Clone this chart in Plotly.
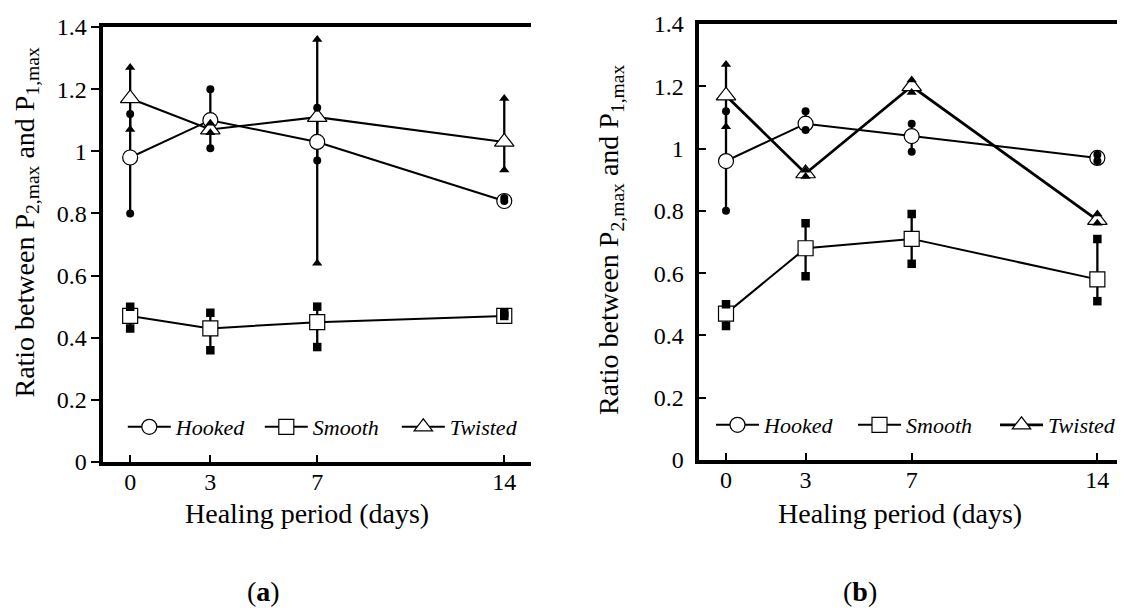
import plotly.graph_objects as go

# ---------------- data ----------------
days = [0, 3, 7, 14]
x_ticktext = ["0", "3", "7", "14"]
y_tickvals = [0, 0.2, 0.4, 0.6, 0.8, 1.0, 1.2, 1.4]
y_ticktext = ["0", "0.2", "0.4", "0.6", "0.8", "1", "1.2", "1.4"]
series_names = ["Hooked", "Smooth", "Twisted"]

# panel (a)
a_hooked_mean = [0.98, 1.10, 1.03, 0.84]
a_hooked_lo = [0.80, 1.01, 0.97, 0.84]
a_hooked_hi = [1.12, 1.20, 1.14, 0.85]
a_smooth_mean = [0.47, 0.43, 0.45, 0.47]
a_smooth_lo = [0.43, 0.36, 0.37, 0.47]
a_smooth_hi = [0.50, 0.48, 0.50, 0.48]
a_twisted_mean = [1.17, 1.07, 1.11, 1.03]
a_twisted_lo = [1.07, 1.06, 0.64, 0.94]
a_twisted_hi = [1.27, 1.09, 1.36, 1.17]

# panel (b)
b_hooked_mean = [0.96, 1.08, 1.04, 0.97]
b_hooked_lo = [0.80, 1.06, 0.99, 0.96]
b_hooked_hi = [1.12, 1.12, 1.08, 0.98]
b_smooth_mean = [0.47, 0.68, 0.71, 0.58]
b_smooth_lo = [0.43, 0.59, 0.63, 0.51]
b_smooth_hi = [0.50, 0.76, 0.79, 0.71]
b_twisted_mean = [1.17, 0.92, 1.20, 0.77]
b_twisted_lo = [1.07, 0.91, 1.18, 0.76]
b_twisted_hi = [1.27, 0.93, 1.22, 0.79]

# ---------------- styling ----------------
FONT = "Liberation Serif, serif"
W, H = 1137, 608
open_sym = {"Hooked": "circle", "Smooth": "square", "Twisted": "triangle-up"}
open_size = {"Hooked": 15, "Smooth": 15, "Twisted": 17}
fill_size = {"Hooked": 8, "Smooth": 8.5, "Twisted": 9}

panels = [
    ("x", "y", "legend", {"Twisted": 2.1}, [
        ("Hooked", a_hooked_mean, a_hooked_lo, a_hooked_hi),
        ("Smooth", a_smooth_mean, a_smooth_lo, a_smooth_hi),
        ("Twisted", a_twisted_mean, a_twisted_lo, a_twisted_hi),
    ]),
    ("x2", "y2", "legend2", {"Twisted": 2.8}, [
        ("Hooked", b_hooked_mean, b_hooked_lo, b_hooked_hi),
        ("Smooth", b_smooth_mean, b_smooth_lo, b_smooth_hi),
        ("Twisted", b_twisted_mean, b_twisted_lo, b_twisted_hi),
    ]),
]

fig = go.Figure()
for xa, ya, leg, widths, data in panels:
    # range bars (below everything)
    for name, mean, lo, hi in data:
        fig.add_trace(go.Scatter(
            x=days, y=lo, mode="markers", xaxis=xa, yaxis=ya,
            marker=dict(size=1, opacity=0), showlegend=False, hoverinfo="skip",
            error_y=dict(type="data", symmetric=False,
                         array=[h - l for h, l in zip(hi, lo)],
                         arrayminus=[0] * len(lo), width=0, thickness=2.3,
                         color="black"),
        ))
    # mean lines with open markers
    for name, mean, lo, hi in data:
        fig.add_trace(go.Scatter(
            x=days, y=mean, mode="lines+markers", name="<i>" + name + "</i>",
            xaxis=xa, yaxis=ya, legend=leg,
            line=dict(color="black", width=widths.get(name, 2)),
            marker=dict(symbol=open_sym[name], size=open_size[name], color="white",
                        line=dict(color="black", width=1.2)),
        ))
    # individual (min / max) filled markers on top
    for name, mean, lo, hi in data:
        fig.add_trace(go.Scatter(
            x=days + days, y=lo + hi, mode="markers", xaxis=xa, yaxis=ya,
            showlegend=False, hoverinfo="skip",
            marker=dict(symbol=open_sym[name], size=fill_size[name], color="black",
                        line=dict(width=0)),
        ))

tickfont = dict(family=FONT, size=24, color="black")
common_x = dict(tickvals=days, ticktext=x_ticktext, ticks="inside", ticklen=7,
                tickwidth=2, tickcolor="black", showline=True, linewidth=4,
                linecolor="black", mirror=True, showgrid=False, zeroline=False,
                tickfont=tickfont, ticklabelstandoff=-5)
common_y = dict(tickvals=y_tickvals, ticktext=y_ticktext, range=[0, 1.4],
                showline=True, linewidth=4, linecolor="black", showgrid=False,
                zeroline=False, tickfont=tickfont, tickwidth=2, tickcolor="black")
legend_font = dict(family=FONT, size=22, color="black")

fig.update_layout(
    width=W, height=H, margin=dict(l=0, r=0, t=0, b=0),
    paper_bgcolor="white", plot_bgcolor="white", template="none",
    font=dict(family=FONT, color="black"),
    xaxis=dict(domain=[105.3 / W, 540.5 / W], range=[-1, 15], anchor="y", **common_x),
    yaxis=dict(domain=[(H - 462) / H, (H - 27) / H], anchor="x", ticks="outside",
               ticklen=8, **common_y),
    yaxis3=dict(overlaying="y", side="right", anchor="x", ticks="inside",
                ticklen=7, showticklabels=False, **common_y),
    xaxis2=dict(domain=[712 / W, 1.0], range=[-1, 14.74], anchor="y2", **common_x),
    yaxis2=dict(domain=[(H - 460) / H, (H - 24) / H], anchor="x2", ticks="inside",
                ticklen=7, ticklabelstandoff=7, **common_y),
    legend=dict(orientation="h", x=125 / W, xanchor="left", y=(H - 427) / H,
                yanchor="middle", bgcolor="rgba(0,0,0,0)", itemwidth=43,
                font=legend_font, entrywidth=79, entrywidthmode="pixels"),
    legend2=dict(orientation="h", x=724 / W, xanchor="left", y=(H - 425) / H,
                 yanchor="middle", bgcolor="rgba(0,0,0,0)", itemwidth=43,
                 font=legend_font, entrywidth=84, entrywidthmode="pixels"),
    showlegend=True,
)

ytitle = "Ratio between P<sub>2,max</sub> and P<sub>1,max</sub>"
title_font = dict(family=FONT, size=28, color="black")
annots = [
    dict(text=ytitle, x=26 / W, y=(H - 222) / H, textangle=-90),
    dict(text=ytitle, x=621 / W, y=(H - 240) / H, textangle=-90),
    dict(text="Healing period (days)", x=312 / W, y=(H - 513) / H),
    dict(text="Healing period (days)", x=916 / W, y=(H - 513) / H),
    dict(text="(<b>a</b>)", x=268 / W, y=(H - 591) / H),
    dict(text="(<b>b</b>)", x=875 / W, y=(H - 591) / H),
]
for a in annots:
    fig.add_annotation(xref="paper", yref="paper", showarrow=False,
                       xanchor="center", yanchor="middle", font=title_font, **a)

fig.write_html("out.html")
